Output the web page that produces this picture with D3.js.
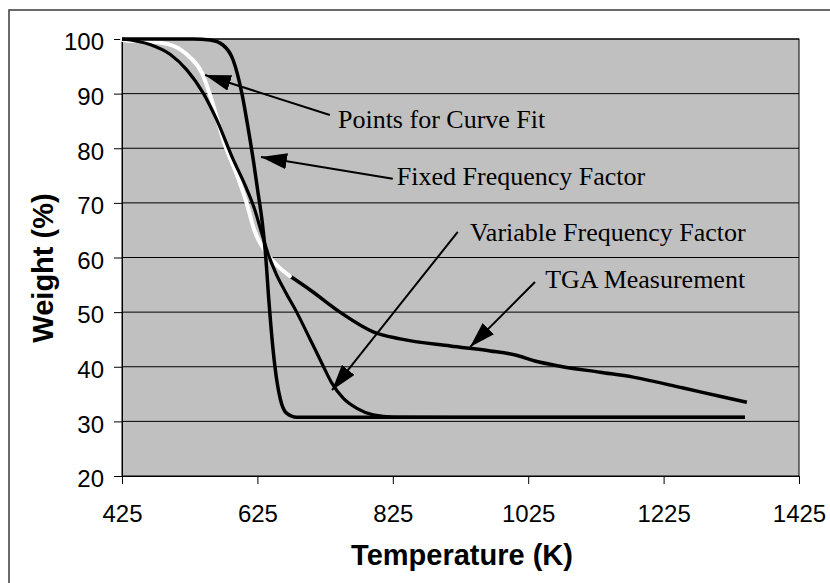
<!DOCTYPE html>
<html>
<head>
<meta charset="utf-8">
<script src="https://cdn.jsdelivr.net/npm/d3@7"></script>
<style>
  body { margin: 0; background: #fff; }
</style>
</head>
<body>
<script>
// points of the TGA curve used for the fit (drawn white)
var fitT = [425, 434, 460, 491, 511, 525, 543, 556, 576, 596, 609, 621, 632, 644, 658, 673];
var fitW = [99.8, 99.7, 99.6, 99.1, 98.1, 96.7, 93.8, 89.4, 81.0, 74.7, 70.0, 64.8, 62.0, 59.9, 58.1, 56.6];

// rest of the TGA measurement
var tgaT = [673, 703, 747, 796, 836, 910, 969, 1006, 1035, 1072, 1131, 1180, 1254, 1308, 1348];
var tgaW = [56.6, 54.05, 50.0, 46.4, 45.1, 43.8, 42.9, 42.15, 41.05, 40.1, 39.0, 38.1, 36.1, 34.6, 33.5];

// variable frequency factor model
var varT = [425, 466, 496, 521, 545, 565, 589, 607, 621, 631, 641, 652, 665, 683, 703, 720, 735, 752, 772, 796, 826, 910, 1345];
var varW = [100, 99.0, 97.2, 94.3, 90.1, 85.2, 78.0, 73.2, 68.8, 64.6, 60.6, 57.2, 54.0, 50.0, 45.0, 40.7, 37.0, 34.2, 32.4, 31.2, 30.8, 30.75, 30.75];

// fixed frequency factor model
var fixT = [425, 530, 555, 574, 589, 602, 611, 619, 626, 632, 637, 642, 648, 654, 659, 668, 683, 1345];
var fixW = [100, 100, 99.8, 98.9, 96.2, 90.1, 83.9, 77.8, 71.8, 66.6, 60.6, 52.0, 43.3, 37.2, 34.0, 31.5, 30.75, 30.75];

// annotations: text, label position, arrow tail, arrow tip (data units)
var noteText = ["Points for Curve Fit", "Fixed Frequency Factor", "Variable Frequency Factor", "TGA Measurement"];
var noteLabel = [[744, 83.7], [831, 73.3], [939, 63.1], [1050, 54.4]];
var noteTail = [[732, 86.1], [825, 74.4], [921, 64.7], [1035, 55.5]];
var noteTip = [[547.6, 93.4], [630.3, 78.4], [735.2, 35.7], [939, 43.6]];

var xTicks = [425, 625, 825, 1025, 1225, 1425];
var yTicks = [20, 30, 40, 50, 60, 70, 80, 90, 100];

const w = 830, h = 583;
const pLeft = 122, pRight = 799, pTop = 39, pBottom = 476;

const xScale = d3.scaleLinear().domain([425, 1425]).range([pLeft, pRight]);
const yScale = d3.scaleLinear().domain([20, 100]).range([pBottom, pTop]);

const svg = d3.select("body").append("svg")
  .attr("width", w)
  .attr("height", h);

// outer chart frame (only left/top visible)
svg.append("rect")
  .attr("x", 9).attr("y", 10)
  .attr("width", 900).attr("height", 700)
  .attr("fill", "none")
  .attr("stroke", "#3a3a3a")
  .attr("stroke-width", 1.5);

// plot area
svg.append("rect")
  .attr("x", pLeft).attr("y", pTop)
  .attr("width", pRight - pLeft).attr("height", pBottom - pTop)
  .attr("fill", "#c0c0c0")
  .attr("stroke", "#000")
  .attr("stroke-width", 1);

// gridlines
svg.append("g")
  .selectAll("line")
  .data(yTicks.slice(1))
  .enter()
  .append("line")
  .attr("x1", pLeft).attr("x2", pRight)
  .attr("y1", d => yScale(d)).attr("y2", d => yScale(d))
  .attr("stroke", "#000")
  .attr("stroke-width", 1);

//X axis
const xAxis = d3.axisBottom(xScale).tickValues(xTicks).tickFormat(d3.format("d"))
  .tickSize(8).tickPadding(21).tickSizeOuter(0);
const gx = svg.append("g")
  .attr("transform", "translate(0," + pBottom + ")")
  .call(xAxis);
gx.select(".domain").attr("stroke", "#000");
gx.selectAll("text")
  .attr("font-family", "'Liberation Sans', Arial, sans-serif")
  .attr("font-size", 24)
  .attr("fill", "#000");

//Y axis
const yAxis = d3.axisLeft(yScale).tickValues(yTicks).tickSize(8).tickPadding(10).tickSizeOuter(0);
const gy = svg.append("g")
  .attr("transform", "translate(" + pLeft + ",0)")
  .call(yAxis);
gy.select(".domain").attr("stroke", "#000");
gy.selectAll("text")
  .attr("font-family", "'Liberation Sans', Arial, sans-serif")
  .attr("font-size", 24)
  .attr("dy", "0.45em")
  .attr("fill", "#000");

// axis titles
svg.append("text")
  .attr("x", 462)
  .attr("y", 565)
  .attr("text-anchor", "middle")
  .attr("font-family", "'Liberation Sans', Arial, sans-serif")
  .attr("font-weight", "bold")
  .attr("font-size", 29)
  .text("Temperature (K)");

svg.append("text")
  .attr("transform", "translate(53,268) rotate(-90)")
  .attr("text-anchor", "middle")
  .attr("font-family", "'Liberation Sans', Arial, sans-serif")
  .attr("font-weight", "bold")
  .attr("font-size", 29)
  .text("Weight (%)");

// curves
const line = d3.line()
  .x(d => xScale(d[0]))
  .y(d => yScale(d[1]))
  .curve(d3.curveMonotoneX);

function pairs(a, b) { return a.map((v, i) => [v, b[i]]); }

const plot = svg.append("g");

plot.append("path")
  .datum(pairs(tgaT, tgaW))
  .attr("d", line)
  .attr("fill", "none")
  .attr("stroke", "#000")
  .attr("stroke-width", 3.5);

plot.append("path")
  .datum(pairs(fitT, fitW))
  .attr("d", line)
  .attr("fill", "none")
  .attr("stroke", "#fff")
  .attr("stroke-width", 4)
  .attr("stroke-linecap", "round");

plot.append("path")
  .datum(pairs(varT, varW))
  .attr("d", line)
  .attr("fill", "none")
  .attr("stroke", "#000")
  .attr("stroke-width", 3.2);

plot.append("path")
  .datum(pairs(fixT, fixW))
  .attr("d", line)
  .attr("fill", "none")
  .attr("stroke", "#000")
  .attr("stroke-width", 3.5);

// arrows
svg.append("defs").append("marker")
  .attr("id", "head")
  .attr("viewBox", "0 0 26 16")
  .attr("refX", 26).attr("refY", 8)
  .attr("markerWidth", 26).attr("markerHeight", 16)
  .attr("markerUnits", "userSpaceOnUse")
  .attr("orient", "auto")
  .append("path")
  .attr("d", "M0,0 L26,8 L0,16 Z")
  .attr("fill", "#000");

svg.append("g")
  .selectAll("line")
  .data(noteText)
  .enter()
  .append("line")
  .attr("x1", (d, i) => xScale(noteTail[i][0]))
  .attr("y1", (d, i) => yScale(noteTail[i][1]))
  .attr("x2", (d, i) => xScale(noteTip[i][0]))
  .attr("y2", (d, i) => yScale(noteTip[i][1]))
  .attr("stroke", "#000")
  .attr("stroke-width", 2)
  .attr("marker-end", "url(#head)");

svg.append("g")
  .selectAll("text")
  .data(noteText)
  .enter()
  .append("text")
  .attr("x", (d, i) => xScale(noteLabel[i][0]))
  .attr("y", (d, i) => yScale(noteLabel[i][1]))
  .attr("font-family", "'Liberation Serif', 'Times New Roman', serif")
  .attr("font-size", 26)
  .attr("fill", "#000")
  .text(d => d);
</script>
</body>
</html>
